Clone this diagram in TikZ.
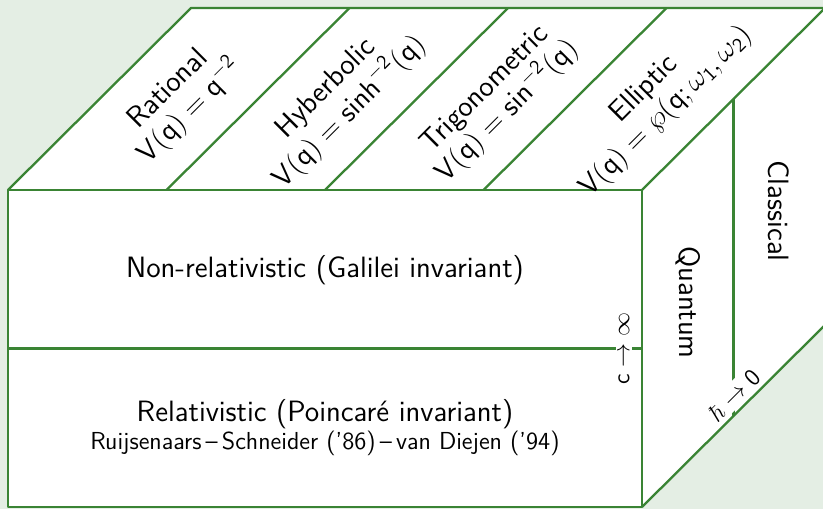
\documentclass[tikz,border=0pt]{standalone}
\definecolor{cubegreen}{RGB}{58,132,52}
\definecolor{pagebg}{RGB}{228,238,228}
\newcommand{\msf}[1]{\mathsf{#1}}
\begin{document}
\begin{tikzpicture}[x=0.5pt,y=-0.5pt,
  edge/.style={draw=cubegreen,line width=1.15pt},
  big/.style={font=\fontsize{14.7}{15.5}\selectfont\sffamily,align=center,inner sep=0pt},
  limit/.style={font=\fontsize{12}{14}\selectfont\sffamily,fill=white,inner sep=1.5pt}]
\clip (0,0) rectangle (823,509);
\fill[pagebg] (0,0) rectangle (823,509);
% corners of the box
\coordinate (FTL) at (8,190);
\coordinate (FTR) at (642,190);
\coordinate (FBR) at (642,507);
\coordinate (FBL) at (8,507);
\coordinate (BTL) at (191,8);
\coordinate (BTR) at (825,8);
\coordinate (BBR) at (825,325);
\fill[white] (FTL) -- (BTL) -- (BTR) -- (BBR) -- (FBR) -- (FBL) -- cycle;
% strips of the top face
\foreach \i/\fx in {1/166.5,2/325,3/483.5}{
  \coordinate (f\i) at (\fx,190);
  \coordinate (b\i) at ({\fx+183},8);
  \draw[edge] (f\i) -- (b\i);
}
% split of the front face and c -> infinity
\coordinate (ML) at (8,348.5);
\coordinate (MR) at (642,348.5);
\draw[edge] (ML) -- (MR);
\node[limit,rotate=90] (cinf) at (624,348.5) {$\msf{c}\to\infty$};
% split of the side face and hbar -> 0
\coordinate (RT) at (733.5,99);
\coordinate (RB) at (733.5,416);
\draw[edge] (RT) -- (RB);
\node[limit,rotate=45] (hb) at (734,395) {$\hbar\to\msf{0}$};
% outline
\draw[edge,line join=round] (FBL) rectangle (FTR);
\draw[edge,line join=round] (FTL) -- (BTL) -- (BTR) -- (BBR) -- (FBR);
\draw[edge] (FTR) -- (BTR);
% labels of the front face
\node[big] (nonrel) at (325,270) {Non-relativistic (Galilei invariant)};
\node[big] (rel) at (325,428) {Relativistic (Poincar\'e invariant)\\[-1.5pt]
  {\fontsize{12.3}{13}\selectfont Ruijsenaars\,--\,Schneider ('86)\,--\,van Diejen ('94)}};
% labels of the side face
\node[big,rotate=-90] (quant) at (688,302.5) {Quantum};
\node[big,rotate=-90] (class) at (779,211) {Classical};
% labels of the top face
\node[big,rotate=45] (ratl) at (180,101) {Rational\\$\msf{V(q)}=\msf{q}^{-\msf{2}}$};
\node[big,rotate=45] (hyp) at (338.5,101) {Hyberbolic\\$\msf{V(q)}=\msf{sinh}^{-\msf{2}}\msf{(q)}$};
\node[big,rotate=45] (trig) at (497,101) {Trigonometric\\$\msf{V(q)}=\msf{sin}^{-\msf{2}}\msf{(q)}$};
\node[big,rotate=45] (ell) at (655.5,101) {Elliptic\\$\msf{V(q)}=\wp\msf{(q;}\,\omega_{\msf{1}},\omega_{\msf{2}}\msf{)}$};
\end{tikzpicture}
\end{document}
